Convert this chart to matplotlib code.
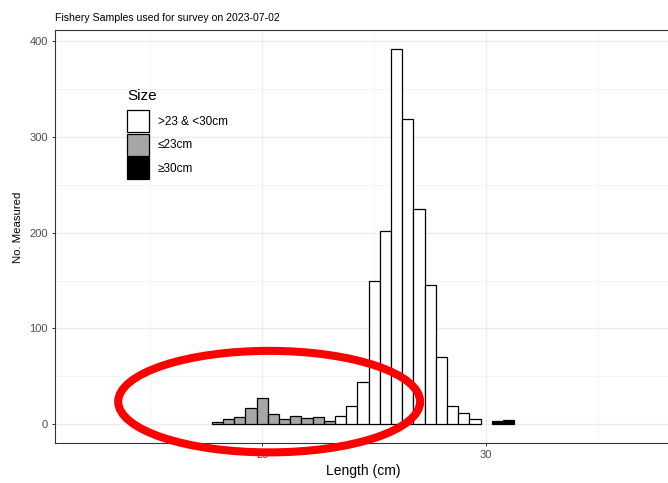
import matplotlib
matplotlib.use("Agg")
import matplotlib.pyplot as plt
from matplotlib.patches import Ellipse, Patch
import numpy as np

plt.rcParams['font.family'] = ['Liberation Sans', 'DejaVu Sans']

# length-frequency counts, 0.5 cm bins, split by size class
small_len = [18.0, 18.5, 19.0, 19.5, 20.0, 20.5, 21.0, 21.5, 22.0, 22.5, 23.0]
small_n = [2, 5, 8, 17, 27, 11, 5, 9, 7, 8, 3]
mid_len = [23.5, 24.0, 24.5, 25.0, 25.5, 26.0, 26.5, 27.0, 27.5, 28.0, 28.5, 29.0, 29.5]
mid_n = [9, 19, 44, 150, 202, 392, 319, 225, 145, 70, 19, 12, 5]
big_len = [30.5, 31.0]
big_n = [3, 4]

size_labels = [">23 & <30cm", "\u226423cm", "\u226530cm"]
size_colors = ["white", "#a6a6a6", "black"]

W, H = 668, 483
fig = plt.figure(figsize=(W / 100, H / 100), dpi=100)
ax = fig.add_axes([55 / W, 1 - 443 / H, 616 / W, 413 / H])

ax.bar(mid_len, mid_n, width=0.5, color=size_colors[0], edgecolor="black", linewidth=0.9, zorder=3)
ax.bar(small_len, small_n, width=0.5, color=size_colors[1], edgecolor="black", linewidth=0.9, zorder=3)
ax.bar(big_len, big_n, width=0.5, color=size_colors[2], edgecolor="black", linewidth=0.9, zorder=3)

ax.set_xlim(10.75, 38.25)
ax.set_ylim(-19.6, 411.6)

# theme_bw style grid
ax.set_xticks([20, 30])
ax.set_xticks([15, 25, 35], minor=True)
ax.set_yticks([0, 100, 200, 300, 400])
ax.set_yticks([50, 150, 250, 350], minor=True)
ax.grid(which="major", color="#ebebeb", linewidth=1.0, zorder=0)
ax.grid(which="minor", color="#f2f2f2", linewidth=0.6, zorder=0)
ax.set_axisbelow(True)
ax.tick_params(which="major", length=2.5, width=0.7, color="#333333",
               labelcolor="#4d4d4d", labelsize=8, pad=2.5)
ax.tick_params(which="minor", length=0)
for s in ax.spines.values():
    s.set_color("#333333")
    s.set_linewidth(0.8)
ax.spines["right"].set_visible(False)

ax.set_xlabel("Length (cm)", fontsize=10, labelpad=3)
ax.set_ylabel("No. Measured", fontsize=8.2)
ax.yaxis.set_label_coords(-0.052, 0.523)
fig.text(55 / W, 1 - 18 / H, "Fishery Samples used for survey on 2023-07-02",
         fontsize=7.6, va="center", ha="left")

handles = [Patch(facecolor=c, edgecolor="black", linewidth=0.9) for c in size_colors]
leg = ax.legend(handles, size_labels, title="Size", loc="upper left",
                bbox_to_anchor=(127 / W, 1 - 89 / H), bbox_transform=fig.transFigure,
                frameon=False, fontsize=8.5, title_fontsize=11, alignment="left",
                handlelength=1.86, handleheight=2.5, labelspacing=0.14,
                handletextpad=0.75, borderpad=0, borderaxespad=0)
leg._legend_box.sep = 5

# red highlight ring around the small fish
ring = Ellipse((20.31, 23.6), 13.48, 106, fill=False, edgecolor="#ff0000",
               linewidth=5.8, clip_on=False, zorder=10)
ax.add_patch(ring)

fig.savefig("out.png", dpi=100)
